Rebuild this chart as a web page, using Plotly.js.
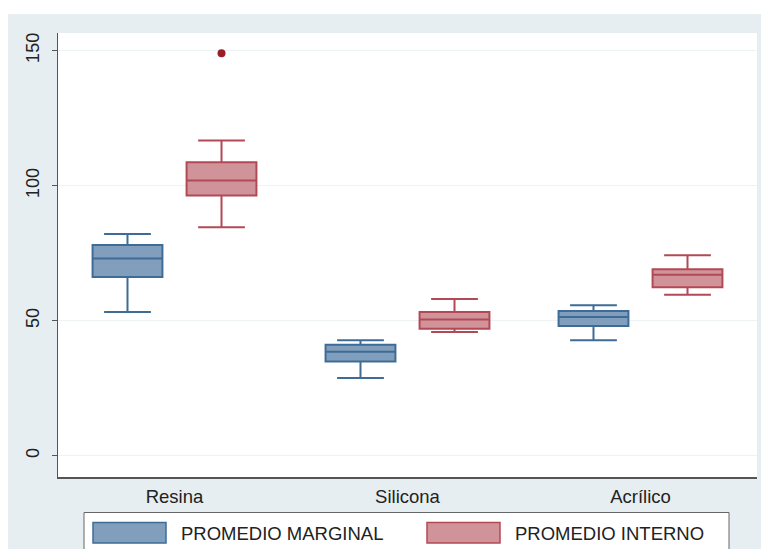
<!DOCTYPE html>
<html>
<head>
<meta charset="utf-8">
<script src="https://cdn.plot.ly/plotly-3.0.1.min.js"></script>
<style>html,body{margin:0;padding:0;background:#fff;}#chart{width:761px;height:549px;}</style>
</head>
<body>
<div id="chart"></div>
<script>
// ---- data ----
var categories = ['Resina', 'Silicona', 'Acrílico'];
var seriesNames = ['PROMEDIO MARGINAL', 'PROMEDIO INTERNO'];

var marginalLower  = [53.2, 28.8, 42.7];
var marginalQ1     = [66.2, 34.9, 48.0];
var marginalMedian = [73.0, 38.5, 51.3];
var marginalQ3     = [78.0, 41.1, 53.6];
var marginalUpper  = [82.1, 42.7, 55.7];

var internoLower  = [84.6, 45.8, 59.6];
var internoQ1     = [96.3, 47.0, 62.4];
var internoMedian = [101.9, 50.4, 67.0];
var internoQ3     = [108.6, 53.2, 69.0];
var internoUpper  = [116.7, 58.0, 74.2];
var internoOutliers = [[149], [], []];

var yTicks = [0, 50, 100, 150];

// ---- styles ----
var blueLine = '#3f6c96', blueFill = '#819fbd';
var redLine = '#b24a56', redFill = '#d1939a';
var font = '"Liberation Sans", Arial, sans-serif';
var textColor = '#222222';

var traces = [
  {
    type: 'box', name: seriesNames[0], x: categories,
    lowerfence: marginalLower, q1: marginalQ1, median: marginalMedian,
    q3: marginalQ3, upperfence: marginalUpper,
    line: {color: blueLine, width: 2}, fillcolor: blueFill,
    whiskerwidth: 0.67, boxpoints: false, showlegend: false, hoverinfo: 'skip'
  },
  {
    type: 'box', name: seriesNames[1], x: categories, y: internoOutliers,
    lowerfence: internoLower, q1: internoQ1, median: internoMedian,
    q3: internoQ3, upperfence: internoUpper,
    line: {color: redLine, width: 2}, fillcolor: redFill,
    whiskerwidth: 0.67, boxpoints: 'outliers', jitter: 0, pointpos: 0,
    marker: {color: '#9b1d27', size: 8, line: {width: 0}},
    showlegend: false, hoverinfo: 'skip'
  }
];

// plot area geometry helpers (pixels -> paper)
var L = 58, R = 4, T = 33, B = 72, W = 761, H = 549;
var pw = W - L - R, ph = H - T - B;
function px(x) { return (x - L) / pw; }
function py(y) { return (H - B - y) / ph; }

var shapes = [
  // white outer margins (top and left)
  {type: 'rect', xref: 'paper', yref: 'paper', x0: px(-20), x1: px(800), y0: py(14), y1: py(-20), fillcolor: '#ffffff', line: {width: 0}, layer: 'below'},
  {type: 'rect', xref: 'paper', yref: 'paper', x0: px(-20), x1: px(8), y0: py(600), y1: py(-20), fillcolor: '#ffffff', line: {width: 0}, layer: 'below'},
  // legend frame
  {type: 'rect', xref: 'paper', yref: 'paper', x0: px(84), x1: px(729), y0: py(560), y1: py(512.5), fillcolor: '#ffffff', line: {color: '#666666', width: 1}},
  // legend swatches
  {type: 'rect', xref: 'paper', yref: 'paper', x0: px(93), x1: px(166), y0: py(543), y1: py(522.5), fillcolor: blueFill, line: {color: blueLine, width: 1.5}},
  {type: 'rect', xref: 'paper', yref: 'paper', x0: px(427), x1: px(500), y0: py(543), y1: py(522.5), fillcolor: redFill, line: {color: redLine, width: 1.5}}
];

var annotations = [
  {xref: 'paper', yref: 'paper', x: px(179), y: py(533), xanchor: 'left', yanchor: 'middle', showarrow: false, text: seriesNames[0], font: {family: font, size: 18.5, color: textColor}},
  {xref: 'paper', yref: 'paper', x: px(513), y: py(533), xanchor: 'left', yanchor: 'middle', showarrow: false, text: seriesNames[1], font: {family: font, size: 18.5, color: textColor}}
];

var layout = {
  width: W, height: H,
  margin: {l: L, r: R, t: T, b: B, pad: 0},
  paper_bgcolor: '#e7eef1',
  plot_bgcolor: '#ffffff',
  font: {family: font, size: 17, color: textColor},
  boxmode: 'group',
  boxgap: 0.193,
  boxgroupgap: 0.257,
  showlegend: false,
  xaxis: {
    type: 'category', range: [-0.5, 2.5],
    showgrid: false, zeroline: false,
    showline: true, linecolor: '#555555', linewidth: 1.5,
    ticks: '', ticklabelstandoff: 2,
    tickfont: {family: font, size: 18.5, color: textColor}
  },
  yaxis: {
    range: [-7.9, 156.5],
    tickvals: yTicks, ticktext: yTicks.map(String),
    tickangle: -90,
    showgrid: true, gridcolor: '#edf2f4', gridwidth: 1,
    zeroline: false,
    showline: true, linecolor: '#555555', linewidth: 1.5,
    ticks: 'outside', ticklen: 5, tickcolor: '#555555', tickwidth: 1.5,
    ticklabelstandoff: 5,
    tickfont: {family: font, size: 18, color: textColor}
  },
  shapes: shapes,
  annotations: annotations
};

Plotly.newPlot('chart', traces, layout, {staticPlot: true, displayModeBar: false});
</script>
</body>
</html>
